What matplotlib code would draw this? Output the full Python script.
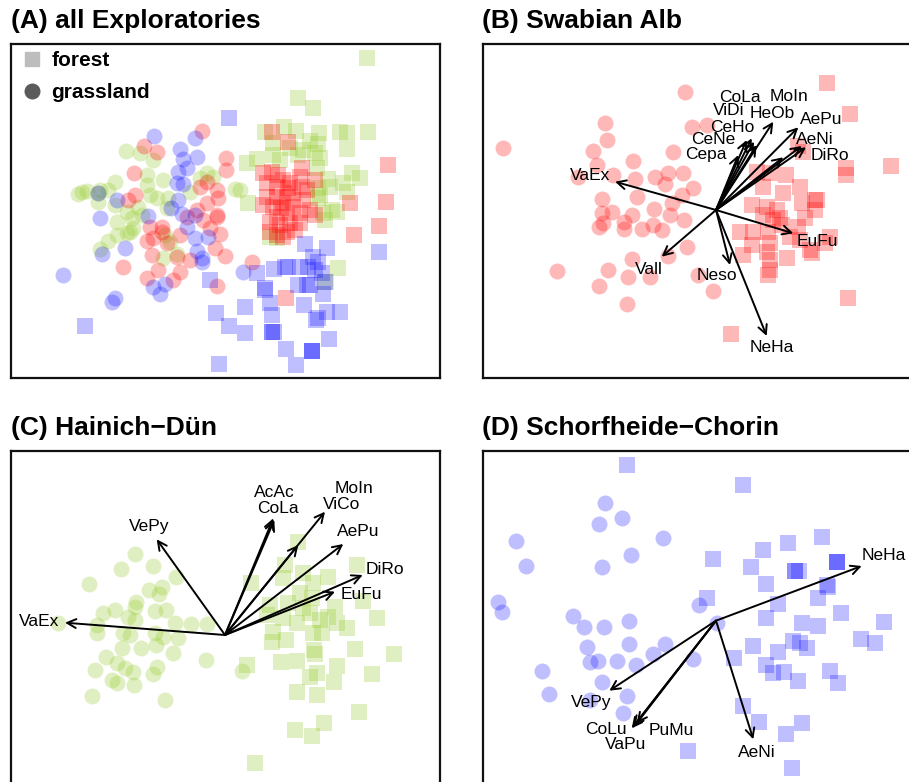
#!/usr/bin/env python3

from matplotlib import pyplot as plt
from matplotlib.lines import Line2D

plt.rcParams['font.family'] = ['Liberation Sans', 'DejaVu Sans']

# Ordination scores (plot units, y grows downwards)

# (A) all Exploratories
a_alb_forest = [
    (271.7, 131.7), (287.7, 141.7), (301.7, 168.3), (315, 180), (388.3, 165),
    (385.7, 201.7), (350, 203.3), (379, 225.7), (354, 235), (286, 298.3),
    (263.3, 173.3), (271.7, 171.7), (278.3, 175), (283.3, 180), (266.7, 183.3),
    (276.7, 186.7), (290, 183.3), (300, 176.7), (301.7, 186.7), (293.3, 193.3),
    (286.7, 196.7), (276.7, 196.7), (266.7, 196.7), (263.3, 205), (273.3, 206.7),
    (283.3, 203.3), (293.3, 206.7), (303.3, 200), (310, 210), (315, 215),
    (300, 213.3), (286.7, 213.3), (276.7, 216.7), (270, 221.7), (280, 225),
    (290, 223.3), (300, 223.3), (286.7, 231.7), (276.7, 235), (283.3, 236.7),
    (270, 231.7), (306.7, 190), (288, 188), (281, 208), (295, 230),
]
a_alb_grass = [
    (201.7, 130.7), (144.3, 145.7), (157.3, 152.3), (226, 157.7), (226, 170),
    (134.3, 173.3), (206.7, 181.7), (200, 186.7), (216.7, 190), (218.3, 198.3),
    (128.3, 200), (135, 195), (196.7, 210), (216.7, 215), (206.7, 203.3),
    (186.7, 216.7), (161.7, 226.7), (150, 226.7), (146.7, 241), (153.3, 238.3),
    (166.7, 243.3), (161.7, 231.7), (180, 235), (151.7, 255), (123.3, 266.7),
    (176.7, 256.7), (158.3, 270), (180, 271.7), (190, 260), (146.7, 278.3),
    (173.3, 280), (215, 247.7), (225, 255.7), (220, 234.3), (216.7, 286),
    (251.7, 261.7), (216.7, 216.7), (203.3, 220), (210, 228),
]
a_hai_forest = [
    (366.7, 57.7), (297.7, 97.7), (312.7, 108.3), (265, 131.7), (284, 126.7),
    (296, 131), (319.3, 132.7), (340, 131.7), (346.7, 133.3), (367.7, 132.3),
    (273.3, 143.3), (310, 141), (318.3, 144.3), (346.7, 149.3), (247.3, 163.3),
    (257.3, 159), (273.3, 155), (298.3, 155), (315, 153.3), (320, 158.3),
    (316.7, 168.3), (351.7, 173.3), (360, 178.3), (328.3, 179), (330, 186.7),
    (346.7, 192.3), (318.3, 188.3), (320, 195), (248.3, 203.3), (338.3, 268.3),
    (326, 282.3), (270, 236.7), (276.7, 238.3), (323.3, 213.3), (331.7, 210),
    (325, 220), (336.7, 211.7), (318.3, 198.3), (303.3, 150), (290, 148.3),
    (280, 160), (343.3, 183.3),
]
a_hai_grass = [
    (126, 151), (140, 153.3), (153.3, 160), (146.7, 175), (115, 181.7),
    (163.3, 180), (146.7, 185), (78.3, 194.3), (82, 192), (86.7, 191),
    (100, 190), (108.3, 190), (98.3, 201.7), (115, 205), (150, 195),
    (156.7, 198.3), (126.7, 211.7), (138.3, 206.7), (141.7, 215), (168.3, 198.3),
    (116.7, 221.7), (200, 178.3), (190, 191.7), (235, 189), (131.7, 218.3),
    (166.7, 208.3), (100, 249), (108.3, 241), (116.7, 235), (130, 231.7),
    (133.3, 228.3), (163.3, 258.3), (176.7, 254.3), (170, 241.7), (165, 235),
    (126.7, 233.3), (240, 190), (213.3, 176.7), (206.7, 173.3), (98, 193),
]
a_sch_forest = [
    (228.7, 118.3), (305, 244.3), (326.7, 248.3), (379.3, 251.7), (313.3, 256.7),
    (274, 269), (285, 266.7), (288.3, 266.7), (300, 266.7), (308.3, 266.7),
    (315, 270), (321.7, 273.3), (256.7, 273.3), (210, 280), (265, 288.3),
    (265, 290), (298.3, 285), (306.7, 285), (310, 285), (325, 281.7),
    (323.3, 294.3), (270, 303.3), (304, 305), (245, 307.3), (216, 313.3),
    (271.7, 315), (318.3, 317.7), (316, 320), (326.7, 312.3), (340, 311.7),
    (229.3, 325.7), (245, 332.7), (271.7, 331.7), (271.7, 331.7), (274, 331.7),
    (329.3, 339.3), (286, 349), (311.7, 350.7), (311.7, 350.7), (311.7, 350.7),
    (219.3, 364), (295.7, 365), (85, 325.7), (318, 262),
]
a_sch_grass = [
    (154, 135.7), (195.3, 138.3), (180, 149), (183.3, 159), (196.7, 156.7),
    (187.3, 167.7), (178.3, 172.3), (176.7, 183.3), (182.7, 184.3), (98.3, 193.3),
    (116.7, 200), (178.3, 200), (170.7, 207.7), (100, 218.3), (148.3, 215.7),
    (181.7, 214.3), (195, 215), (101.7, 254.3), (125, 247.7), (62.7, 275),
    (115, 297.7), (111.7, 302.3), (153.3, 286.7), (165, 284.3), (160, 294.3),
    (195, 238.3), (208.3, 236.7), (196.7, 251), (201.7, 261.7), (186.7, 226.7),
    (242.7, 271.7), (201.7, 258.3),
]

# (B) Swabian Alb
b_forest = [
    (826.7, 82.7), (850, 114), (798.3, 146), (803.3, 151.7), (846, 168.3),
    (846, 175), (890.7, 166), (756.7, 171.7), (770, 173.3), (786, 175),
    (763.3, 186.7), (800, 186.7), (783.3, 193.3), (815, 200), (801.7, 203.3),
    (815, 210), (805, 218.3), (751.7, 205), (766.7, 206.7), (776.7, 210),
    (780, 218.3), (763.3, 215), (773.3, 220), (740, 231.7), (753.3, 231.7),
    (768.3, 231.7), (781.7, 225), (790, 236.7), (800, 240), (830, 236.7),
    (825, 243.3), (810, 250), (770, 243.3), (766.7, 251.7), (751.7, 245),
    (743.3, 255), (770, 260), (786.7, 258.3), (770, 270), (768.3, 275),
    (798.3, 226.7), (848.3, 297.7), (730.7, 334), (811.7, 253.3), (816.7, 200),
]
b_grass = [
    (685, 92.3), (502.7, 148.3), (605, 123.3), (692.3, 127.3), (706.7, 125),
    (606.7, 140), (592.7, 151), (672.7, 151.7), (597.3, 165), (633.3, 160.7),
    (613.3, 175), (578.3, 176.7), (635, 179), (655, 177.3), (668.3, 173.3),
    (683.3, 172.7), (665, 184), (693.3, 188.3), (601.7, 199.3), (636.7, 196.7),
    (671.7, 202.7), (681.7, 195), (611.7, 211.7), (601.7, 213.3), (631.7, 215),
    (654, 209.3), (670, 215), (684, 220), (603.3, 223.3), (599.3, 226.7),
    (624, 221.7), (624, 229.3), (641.7, 229.3), (653.3, 225), (661.7, 230),
    (687.3, 246.7), (668.3, 256), (631.7, 259), (557.3, 270.7), (608.3, 270),
    (628.3, 277.3), (650, 276.7), (599.3, 286), (698.3, 275), (713.3, 290.7),
    (627.3, 304),
]
b_origin = (716, 210)
b_species = ['VaEx', 'Vall', 'Neso', 'NeHa', 'EuFu', 'DiRo', 'AeNi', 'AePu',
             'HeOb', 'MoIn', 'CoLa', 'ViDi', 'CeHo', 'CeNe', 'Cepa']
b_tips = [(615, 181.7), (661.7, 256.7), (730, 265), (766.7, 336), (793.3, 233.3),
          (806, 147.3), (801.7, 146), (798.3, 127.3), (773.3, 121.7), (783.3, 157.3),
          (756.7, 145), (754, 141.7), (751.7, 138.3), (746.7, 140), (738.3, 155)]
b_labels = [(590, 175), (649, 269), (717, 275), (771.7, 348), (817.7, 241.7),
            (830, 155), (815, 139.3), (821.3, 119.3), (772.3, 114), (789, 96.7),
            (740.3, 97.3), (728.3, 110.7), (732, 127.3), (713.7, 140), (706, 155)]

# (C) Hainich-Dün
c_forest = [
    (297.7, 541.7), (285, 565), (250.7, 583.3), (282.7, 578.3), (303.3, 573.3),
    (328.3, 576.7), (356.7, 565), (300, 593.3), (313.3, 583.3), (311.7, 598.3),
    (335, 606.7), (363.3, 600.7), (266.7, 615), (283.3, 618.3), (296.7, 623.3),
    (310, 613.3), (320, 620), (328.3, 616.7), (336.7, 623.3), (346.7, 628.3),
    (376.7, 618.3), (273.3, 631.7), (271.7, 641.7), (286, 640), (313.3, 633.3),
    (321.7, 633.3), (355, 649.3), (394.3, 654), (314.3, 650), (315, 654),
    (246.7, 665), (280.7, 661.7), (296.7, 660.7), (336.7, 666), (310, 676.7),
    (317.3, 673.3), (334.3, 681.7), (371.7, 674), (297.3, 692.3), (316.7, 695),
    (359.3, 711.7), (295, 730), (324.3, 723.3), (311.7, 735.7), (255, 762.7),
    (288.3, 603.3), (303.3, 608.3), (270, 605),
]
c_grass = [
    (135, 554), (121, 569), (152.7, 566), (89.3, 584.3), (176, 576.7),
    (149.3, 590), (161.7, 587.3), (159.3, 594), (136, 601.7), (135, 606.7),
    (115, 610), (103.3, 613.3), (128.3, 616.7), (155, 610.7), (166, 610),
    (96.7, 625), (135, 620), (175, 622.7), (190.7, 624), (206.7, 624),
    (96.7, 632.7), (122.7, 633.3), (130, 635.3), (155, 633.3), (163.3, 637.3),
    (178.3, 638.3), (121.7, 648.3), (140.7, 647.7), (156, 645), (173.3, 652.7),
    (106, 657.3), (116.7, 663.3), (125, 668.3), (156.7, 666.7), (206, 660),
    (95, 670), (133.3, 671.7), (152.7, 674), (111.7, 680), (116.7, 683.3),
    (134, 685), (91.7, 696), (165, 700), (58.3, 623.3), (241.7, 670.7),
]
c_origin = (225, 635)
c_species = ['VaEx', 'VePy', 'AcAc', 'CoLa', 'MoIn', 'ViCo', 'AePu', 'DiRo', 'EuFu']
c_tips = [(65, 622.7), (156.7, 539.3), (273.3, 518.3), (274.3, 520), (298.3, 545),
          (325, 511.7), (343.3, 544), (362.7, 575), (335, 591.7)]
c_labels = [(39, 621.7), (149, 526.7), (274.3, 492.7), (277.7, 508.3), (354.3, 488.3),
            (341.7, 505), (358.3, 531.7), (385, 569.3), (361, 595)]

# (D) Schorfheide-Chorin
d_forest = [
    (627.3, 465), (743.3, 485), (822.3, 537.3), (788.3, 543.3), (763.3, 550),
    (713.3, 559.3), (750.7, 567.3), (795, 570.7), (795, 570.7), (799.3, 570.7),
    (837.3, 562.3), (837.3, 562.3), (837.3, 562.3), (766, 584.3), (826.7, 585),
    (828.3, 586.7), (818.3, 598.3), (706.7, 598.3), (777.7, 604.3), (840.7, 613.3),
    (765.7, 618.3), (801.7, 623.3), (818.3, 626), (884, 622.3), (793.3, 640.7),
    (800, 643.3), (806.7, 648.3), (753.3, 645.7), (860.7, 639), (875, 643.3),
    (777.7, 652.3), (734, 657.7), (766, 665), (773.3, 673.3), (784, 671.7),
    (798.3, 681), (830, 670.7), (838.3, 683.3), (743.3, 706), (759.3, 721.7),
    (801.7, 723.3), (786, 734.3), (688.3, 751), (792.3, 768.3),
]
d_grass = [
    (605, 502.7), (621.7, 517.7), (599, 524), (516, 540.7), (662.7, 538.3),
    (631, 555), (525.7, 565.7), (602.3, 567.3), (498.3, 601.7), (501.7, 612.3),
    (699.3, 605), (573.3, 616), (584, 626.7), (604, 627.3), (629.3, 621),
    (716.7, 622.7), (586.7, 646.7), (629.3, 644.3), (665, 644.3), (653.3, 654),
    (693.3, 659.3), (590, 661.7), (598.3, 661), (617.3, 660.7), (636, 665),
    (541.7, 671), (601.7, 682.3), (549.3, 694.3), (626.7, 695.7), (590, 700),
    (622.7, 713.3),
]
d_origin = (716, 620.7)
d_species = ['NeHa', 'VePy', 'CoLu', 'VaPu', 'PuMu', 'AeNi']
d_tips = [(861.7, 566), (609.3, 690.7), (631.7, 728.3), (633.3, 726.7),
          (636.7, 723.3), (753.3, 739.3)]
d_labels = [(884.3, 556), (591.5, 702.3), (605.5, 730), (625.8, 745),
            (671.3, 731), (756.7, 752.7)]

ALB = '#ff0000'
HAI = '#9acd32'
SCH = '#0000ff'
W, H = 909, 782
BOX_W, BOX_H = 429, 334


def scatter(ax, pts, color, marker, alpha):
    xs = [p[0] for p in pts]
    ys = [p[1] for p in pts]
    ax.scatter(xs, ys, s=132, marker=marker, color=color, alpha=alpha,
               linewidths=0, zorder=2)


def arrows(ax, origin, names, tips, labels):
    for name, tip, lab in zip(names, tips, labels):
        ax.annotate('', xy=tip, xytext=origin,
                    arrowprops=dict(arrowstyle='->', lw=1.4, color='black',
                                    mutation_scale=16, shrinkA=0, shrinkB=0),
                    zorder=3)
        ax.text(lab[0], lab[1], name, fontsize=12.5, ha='center', va='center',
                zorder=4)


def panel(fig, left, top, title):
    ax = fig.add_axes([left / W, (H - top - BOX_H) / H, BOX_W / W, BOX_H / H])
    ax.set_xlim(left, left + BOX_W)
    ax.set_ylim(top + BOX_H, top)
    ax.set_xticks([])
    ax.set_yticks([])
    for sp in ax.spines.values():
        sp.set_linewidth(1.6)
        sp.set_color('#111111')
    fig.text(left / W, 1 - (top - 23) / H, title, fontsize=19,
             fontweight='bold', ha='left', va='center')
    return ax


def main() -> None:
    fig = plt.figure(figsize=(W / 100, H / 100), dpi=100)

    ax1 = panel(fig, 11, 44, '(A) all Exploratories')
    scatter(ax1, a_hai_grass, HAI, 'o', 0.3)
    scatter(ax1, a_hai_forest, HAI, 's', 0.3)
    scatter(ax1, a_alb_grass, ALB, 'o', 0.28)
    scatter(ax1, a_alb_forest, ALB, 's', 0.28)
    scatter(ax1, a_sch_grass, SCH, 'o', 0.25)
    scatter(ax1, a_sch_forest, SCH, 's', 0.25)
    handles = [
        Line2D([], [], ls='', marker='s', ms=10.5, color='#bdbdbd'),
        Line2D([], [], ls='', marker='o', ms=10.5, color='#5a5a5a'),
    ]
    ax1.legend(handles, ['forest', 'grassland'], loc='upper left',
               frameon=False, prop=dict(size=15, weight='bold'),
               borderaxespad=0.0, borderpad=0.35, handletextpad=0.3,
               labelspacing=0.62, handlelength=1.3)

    ax2 = panel(fig, 482.5, 44, '(B) Swabian Alb')
    scatter(ax2, b_grass, ALB, 'o', 0.28)
    scatter(ax2, b_forest, ALB, 's', 0.28)
    arrows(ax2, b_origin, b_species, b_tips, b_labels)

    ax3 = panel(fig, 11, 451, '(C) Hainich\u2212Dün')
    scatter(ax3, c_grass, HAI, 'o', 0.3)
    scatter(ax3, c_forest, HAI, 's', 0.3)
    arrows(ax3, c_origin, c_species, c_tips, c_labels)

    ax4 = panel(fig, 482.5, 451, '(D) Schorfheide\u2212Chorin')
    scatter(ax4, d_grass, SCH, 'o', 0.25)
    scatter(ax4, d_forest, SCH, 's', 0.25)
    arrows(ax4, d_origin, d_species, d_tips, d_labels)

    fig.savefig('out.png', dpi=100)


if __name__ == '__main__':
    main()
